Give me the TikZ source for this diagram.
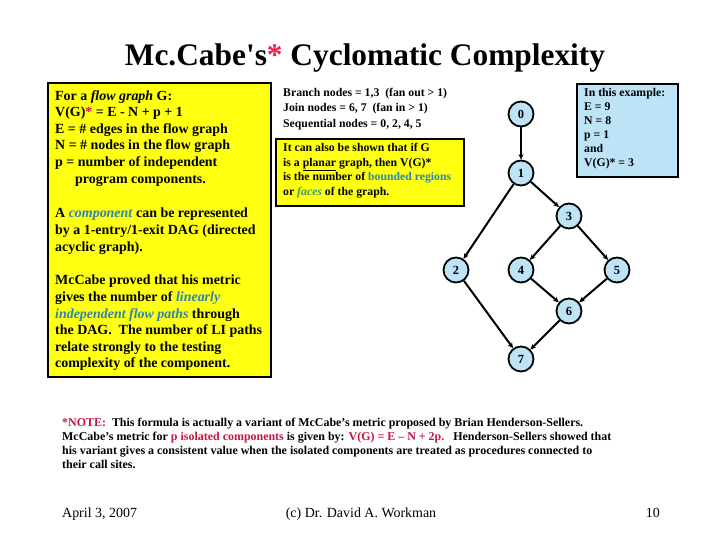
\documentclass[tikz,border=0pt]{standalone}
\usepackage{fontspec}
\setmainfont{Liberation Serif}
\usetikzlibrary{arrows.meta,positioning,calc}
\definecolor{slideyellow}{HTML}{FFFF10}
\definecolor{paleblue}{HTML}{BDE3F6}
\definecolor{crimson}{HTML}{C8143F}
\definecolor{starred}{HTML}{E8204A}
\definecolor{tealblue}{HTML}{2A86AE}
\definecolor{leafgreen}{HTML}{3C9E6A}
\tikzset{
  framebox/.style={
    draw=black,
    line width=1.8pt,
    anchor=north west,
    inner sep=0pt
  },
  boxtext/.style={
    anchor=north west,
    inner sep=0pt,
    align=left
  },
  flownode/.style={
    circle,
    draw=black,
    line width=1.8pt,
    fill=paleblue,
    minimum size=25bp,
    inner sep=0pt,
    font=\fontsize{12.5}{13}\selectfont\bfseries
  },
  flowedge/.style={-{Stealth[length=5.5bp,width=5bp]},line width=2pt,draw=black}
}

\begin{document}
\begin{tikzpicture}[x=1bp,y=-1bp]
\useasboundingbox (0,0) rectangle (720,540);
% title
\node[anchor=base,inner sep=0pt,font=\fontsize{31.5}{34}\selectfont\bfseries] (title) at (365,66)
  {Mc.Cabe\textquotesingle s\textcolor{starred}{*} Cyclomatic Complexity};
% left definition box
\node[framebox,fill=slideyellow,minimum width=223bp,minimum height=294bp] (defbox) at (47,82) {};
\node[boxtext,font=\fontsize{14}{16.7}\selectfont\bfseries] (deftext) at ([shift={(8,8)}]defbox.north west)
  {For a \textit{flow graph} G:\\
   V(G)\textcolor{crimson}{*} = E - N + p + 1\\
   E = \# edges in the flow graph\\
   N = \# nodes in the flow graph\\
   p = number of independent\\
   \hspace*{20bp}program components.\\[18bp]
   A \textcolor{tealblue}{\textit{component}} can be represented\\
   by a 1-entry/1-exit DAG (directed\\
   acyclic graph).\\[17bp]
   McCabe proved that his metric\\
   gives the number of \textcolor{tealblue}{\textit{linearly}}\\
   \textcolor{tealblue}{\textit{independent flow paths}} through\\
   the DAG.\ \ The number of LI paths\\
   relate strongly to the testing\\
   complexity of the component.};
% node kinds
\node[boxtext,font=\fontsize{11.8}{15.5}\selectfont\bfseries] (kindtext) at (283,88)
  {Branch nodes = 1,3\ \ (fan out > 1)\\
   Join nodes = 6, 7\ \ (fan in > 1)\\
   Sequential nodes = 0, 2, 4, 5};
% planar box
\node[framebox,fill=slideyellow,minimum width=188bp,minimum height=67bp] (planarbox) at (275,138) {};
\node[boxtext,font=\fontsize{11.8}{14.7}\selectfont\bfseries] (planartext) at ([shift={(8,5)}]planarbox.north west)
  {It can also be shown that if G\\
   is a \underline{planar} graph, then V(G)*\\
   is the number of \textcolor{tealblue}{bounded regions}\\
   or \textcolor{leafgreen}{\textit{faces}} of the graph.};
% example box
\node[framebox,fill=paleblue,minimum width=101bp,minimum height=93bp] (examplebox) at (576,83) {};
\node[boxtext,font=\fontsize{11.8}{14}\selectfont\bfseries] (exampletext) at ([shift={(8,5)}]examplebox.north west)
  {In this example:\\
   E = 9\\
   N = 8\\
   p = 1\\
   and\\
   V(G)* = 3};
% flow graph
\node[flownode] (v0) at (521,114) {0};
\node[flownode] (v1) at (521,173) {1};
\node[flownode] (v3) at (569,216) {3};
\node[flownode] (v2) at (456,270) {2};
\node[flownode] (v4) at (521,270) {4};
\node[flownode] (v5) at (617,270) {5};
\node[flownode] (v6) at (569,311) {6};
\node[flownode] (v7) at (521,359) {7};
\draw[flowedge] (v0) -- (v1);
\draw[flowedge] (v1) -- (v2);
\draw[flowedge] (v1) -- (v3);
\draw[flowedge] (v3) -- (v4);
\draw[flowedge] (v3) -- (v5);
\draw[flowedge] (v4) -- (v6);
\draw[flowedge] (v5) -- (v6);
\draw[flowedge] (v6) -- (v7);
\draw[flowedge] (v2) -- (v7);
% note
\node[boxtext,font=\fontsize{12}{14}\selectfont\bfseries] (notetext) at (62,418)
  {\textcolor{crimson}{*NOTE:}\ \ This formula is actually a variant of McCabe's metric proposed by Brian Henderson-Sellers.\\
   McCabe's metric for \textcolor{crimson}{p isolated components} is given by: \textcolor{crimson}{V(G) = E -- N + 2p.}\ \ \ Henderson-Sellers showed that\\
   his variant gives a consistent value when the isolated components are treated as procedures connected to\\
   their call sites.};
% footer
\node[anchor=base west,inner sep=0pt,font=\fontsize{14}{16}\selectfont] (datetext) at (62,517) {April 3, 2007};
\node[anchor=base,inner sep=0pt,font=\fontsize{14}{16}\selectfont] (authortext) at (361,517) {(c) Dr. David A. Workman};
\node[anchor=base east,inner sep=0pt,font=\fontsize{14}{16}\selectfont] (pagetext) at (660,517) {10};
\end{tikzpicture}
\end{document}
